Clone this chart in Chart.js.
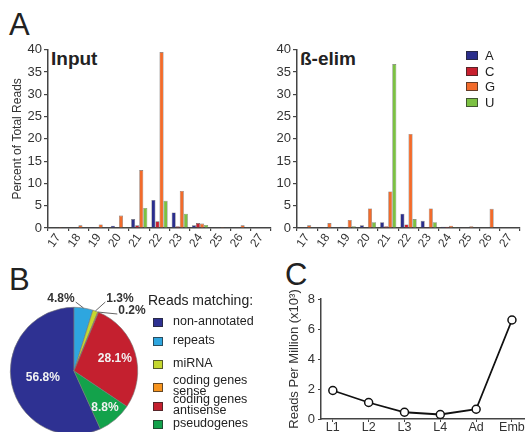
<!DOCTYPE html>
<html>
<head>
<meta charset="utf-8">
<script src="https://cdn.jsdelivr.net/npm/chart.js@4.4.0/dist/chart.umd.min.js"></script>
<style>
html, body { margin: 0; padding: 0; width: 530px; height: 432px; overflow: hidden; background: #fff; }
body { position: relative; font-family: "Liberation Sans", Arial, sans-serif; color: #222; }
canvas, .txt, .sq { position: absolute; }
.txt { line-height: 1; white-space: nowrap; }
.panel { font-size: 31px; }
.ttl { font-size: 19px; font-weight: bold; }
.sq { border: 0.5px solid rgba(40,40,40,0.7); box-sizing: border-box; }
</style>
</head>
<body>
<div class="txt panel" style="left:9px;top:9px">A</div>
<div class="txt panel" style="left:9px;top:264px">B</div>
<div class="txt panel" style="left:285px;top:259px">C</div>

<div class="txt ttl" style="left:51px;top:49px">Input</div>
<div class="txt ttl" style="left:300px;top:49px">ß-elim</div>

<canvas id="inputChart" width="276" height="222" style="left:0;top:40px"></canvas>
<canvas id="elimChart" width="260" height="222" style="left:265px;top:40px"></canvas>
<canvas id="pieChart" width="165" height="175" style="left:0;top:285px"></canvas>
<canvas id="stageChart" width="250" height="147" style="left:280px;top:285px"></canvas>

<div id="legendA"></div>
<div id="legendB"></div>

<script>
// read lengths (nt) and first base
var lengths = ['17', '18', '19', '20', '21', '22', '23', '24', '25', '26', '27'];
var bases = ['A', 'C', 'G', 'U'];
var baseColors = ['#2b2e8c', '#c81f2e', '#f26b2b', '#7cc143'];

// Input library, percent of total reads
var inputA = [0.1, 0.1, 0.2, 0.5, 2.0, 6.3, 3.5, 0.6, 0.1, 0.1, 0];
var inputC = [0, 0, 0.1, 0.1, 0.6, 1.5, 0.4, 1.1, 0, 0, 0];
var inputG = [0.2, 0.6, 0.8, 2.8, 13.0, 39.5, 8.3, 1.0, 0.2, 0.6, 0];
var inputU = [0, 0, 0.1, 0.2, 4.5, 6.1, 3.2, 0.7, 0.1, 0, 0];

// beta-elimination library
var elimA = [0.1, 0.2, 0.3, 0.6, 1.3, 3.2, 1.6, 0.3, 0, 0, 0];
var elimC = [0, 0, 0, 0, 0.4, 0.8, 0.2, 0.3, 0, 0, 0];
var elimG = [0.6, 1.1, 1.8, 4.4, 8.2, 21.1, 4.4, 0.5, 0.4, 4.3, 0];
var elimU = [0, 0, 0.4, 1.3, 36.8, 2.0, 1.3, 0.2, 0, 0, 0];

// pie: reads matching
var pieLabels = ['non-annotated', 'repeats', 'miRNA', 'coding genes\nsense', 'coding genes\nantisense', 'pseudogenes'];
var piePercents = [56.8, 4.8, 1.3, 0.2, 28.1, 8.8];
var pieColors = ['#2e3192', '#2ea6df', '#c5d82f', '#f7941e', '#c4202f', '#13a24b'];

// developmental stages
var stages = ['L1', 'L2', 'L3', 'L4', 'Ad', 'Emb'];
var stageRPM = [1.9, 1.1, 0.45, 0.3, 0.65, 6.6];

// label placement for the pie (radius fraction inside, offset from center for callouts)
var pieInsideR = { 0: 0.5, 4: 0.67, 5: 0.75 };
var pieCallouts = { 1: [-13, -72], 2: [46, -72], 3: [58, -60] };

var FONT = '"Liberation Sans", Arial, sans-serif';
Chart.defaults.font.family = FONT;
Chart.defaults.color = '#333';

function makeBars(id, sets, yWidth, showTitle) {
    var datasets = bases.map(function (b, i) {
        return {
            label: b,
            data: sets[i],
            backgroundColor: baseColors[i],
            borderColor: 'rgba(50,50,50,0.7)',
            borderWidth: 0.6,
            categoryPercentage: 0.8,
            barPercentage: 1
        };
    });
    return new Chart(document.getElementById(id), {
        type: 'bar',
        data: { labels: lengths, datasets: datasets },
        options: {
            responsive: false,
            animation: false,
            devicePixelRatio: 1,
            layout: { padding: { top: 7, right: 5, left: 0, bottom: 0 } },
            plugins: { legend: { display: false }, tooltip: { enabled: false } },
            scales: {
                x: {
                    grid: { offset: true, drawOnChartArea: false, tickLength: 3, color: '#444', lineWidth: 1.2 },
                    border: { color: '#444', width: 1.5 },
                    ticks: { autoSkip: false, minRotation: 55, maxRotation: 55, font: { size: 12 }, padding: 0 },
                    afterFit: function (s) { s.height = 34; }
                },
                y: {
                    min: 0,
                    max: 40,
                    ticks: { stepSize: 5, font: { size: 13 }, padding: 2 },
                    grid: { drawOnChartArea: false, tickLength: 4, color: '#444', lineWidth: 1.2 },
                    border: { color: '#444', width: 1.5 },
                    title: { display: showTitle, text: 'Percent of Total Reads', font: { size: 12 }, padding: { top: 10, bottom: 0 } },
                    afterFit: function (s) { s.width = yWidth; }
                }
            }
        }
    });
}

makeBars('inputChart', [inputA, inputC, inputG, inputU], 48, true);
makeBars('elimChart', [elimA, elimC, elimG, elimU], 32, false);

// legend for the bar charts
var legA = document.getElementById('legendA');
bases.forEach(function (b, i) {
    var c = 55.8 + i * 15.4;
    legA.innerHTML += '<div class="sq" style="left:466px;top:' + (c - 4.5) + 'px;width:12px;height:9px;background:' + baseColors[i] + '"></div>' +
        '<div class="txt" style="left:485px;top:' + (c - 6.5) + 'px;font-size:13px">' + b + '</div>';
});

var pieLabelPlugin = {
    id: 'pieLabels',
    afterDatasetsDraw: function (chart) {
        var ctx = chart.ctx;
        var arcs = chart.getDatasetMeta(0).data;
        ctx.save();
        ctx.font = 'bold 12px ' + FONT;
        ctx.textAlign = 'center';
        ctx.textBaseline = 'middle';
        arcs.forEach(function (arc, i) {
            var p = arc.getProps(['x', 'y', 'startAngle', 'endAngle', 'outerRadius']);
            var mid = (p.startAngle + p.endAngle) / 2;
            var text = piePercents[i].toFixed(1) + '%';
            if (pieInsideR[i] !== undefined) {
                var r = p.outerRadius * pieInsideR[i];
                ctx.fillStyle = '#f2f2f2';
                ctx.fillText(text, p.x + Math.cos(mid) * r, p.y + Math.sin(mid) * r);
            } else if (pieCallouts[i]) {
                var lx = p.x + pieCallouts[i][0];
                var ly = p.y + pieCallouts[i][1];
                var ex = p.x + Math.cos(mid) * p.outerRadius;
                var ey = p.y + Math.sin(mid) * p.outerRadius;
                var w = ctx.measureText(text).width / 2 + 1;
                var sx = ex > lx ? lx + w : lx - w;
                ctx.strokeStyle = '#666';
                ctx.lineWidth = 1;
                ctx.beginPath();
                ctx.moveTo(sx, ly + 3);
                ctx.lineTo(ex, ey);
                ctx.stroke();
                ctx.fillStyle = '#333';
                ctx.fillText(text, lx, ly);
            }
        });
        ctx.restore();
    }
};

new Chart(document.getElementById('pieChart'), {
    type: 'pie',
    data: {
        labels: pieLabels,
        datasets: [{ data: piePercents, backgroundColor: pieColors, borderColor: '#777', borderWidth: 0.6 }]
    },
    options: {
        responsive: false,
        animation: false,
        devicePixelRatio: 1,
        rotation: -piePercents[0] * 3.6,
        layout: { padding: { left: 10, top: 22, right: 27, bottom: 25 } },
        plugins: { legend: { display: false }, tooltip: { enabled: false } }
    },
    plugins: [pieLabelPlugin]
});

// legend for the pie
var legB = document.getElementById('legendB');
legB.innerHTML = '<div class="txt" style="left:148px;top:293px;font-size:14px">Reads matching:</div>';
var rowCenters = [322, 341, 364, 387, 406, 424];
pieLabels.forEach(function (lab, i) {
    var c = rowCenters[i];
    var lines = lab.split('\n');
    var top = lines.length > 1 ? c - 12 : c - 6;
    legB.innerHTML += '<div class="sq" style="left:153px;top:' + (c - 4.5) + 'px;width:10px;height:9px;background:' + pieColors[i] + '"></div>' +
        '<div class="txt" style="left:173px;top:' + top + 'px;font-size:12.5px;line-height:11px">' + lines.join('<br>') + '</div>';
});

new Chart(document.getElementById('stageChart'), {
    type: 'line',
    data: {
        datasets: [{
            data: stageRPM.map(function (v, i) { return { x: i, y: v }; }),
            borderColor: '#111',
            borderWidth: 1.8,
            pointRadius: 4,
            pointBackgroundColor: '#fff',
            pointBorderColor: '#111',
            pointBorderWidth: 1.5,
            tension: 0
        }]
    },
    options: {
        responsive: false,
        animation: false,
        devicePixelRatio: 1,
        layout: { padding: { top: 14, right: 0, left: 0, bottom: 0 } },
        plugins: { legend: { display: false }, tooltip: { enabled: false } },
        scales: {
            x: {
                type: 'linear',
                min: -0.33,
                max: 5.35,
                afterBuildTicks: function (s) {
                    s.ticks = stages.map(function (l, i) { return { value: i }; });
                },
                ticks: { callback: function (v) { return stages[v]; }, font: { size: 12.5 }, padding: -2, maxRotation: 0 },
                grid: { drawOnChartArea: false, tickLength: 3, color: '#444' },
                border: { color: '#444', width: 1.5 },
                afterFit: function (s) { s.height = 13; }
            },
            y: {
                min: 0,
                max: 8,
                ticks: { stepSize: 2, font: { size: 13 }, padding: 3 },
                grid: { drawOnChartArea: false, tickLength: 3, color: '#444' },
                border: { color: '#444', width: 1.5 },
                title: { display: true, text: 'Reads Per Million (x10\u00b3)', font: { size: 13 }, padding: { top: 7, bottom: 0 } },
                afterFit: function (s) { s.width = 41; }
            }
        }
    }
});
</script>
</body>
</html>
